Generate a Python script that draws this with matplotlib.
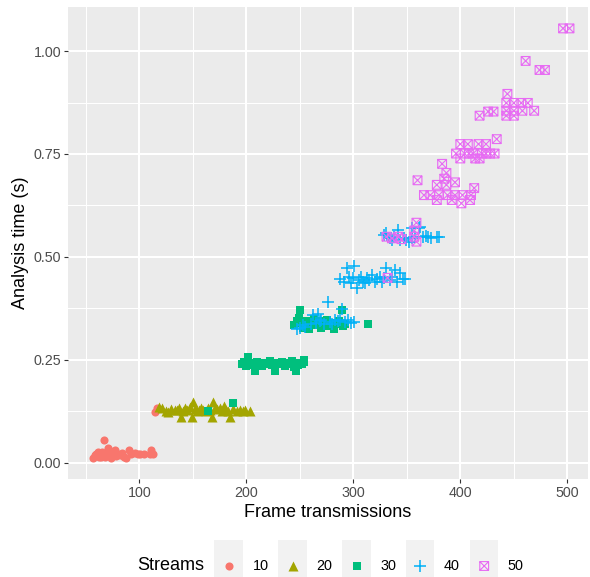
import matplotlib
matplotlib.use("Agg")
import matplotlib.pyplot as plt
from matplotlib.path import Path
from matplotlib.patches import Rectangle

plt.rcParams["font.family"] = ["Liberation Sans", "DejaVu Sans"]

# Frame transmissions vs analysis time, one group per stream count
x10 = [57, 59, 60, 61, 62, 63, 64, 65, 66, 67, 68, 70, 71, 72, 73, 74, 75, 76,
       77, 78, 80, 82, 84, 86, 88, 90, 92, 96, 99, 101, 104, 110, 111, 113, 115, 117]
y10 = [0.012, 0.018, 0.022, 0.027, 0.015, 0.020, 0.013, 0.025, 0.018, 0.054, 0.014,
       0.022, 0.035, 0.018, 0.028, 0.012, 0.020, 0.025, 0.031, 0.016, 0.022, 0.018,
       0.023, 0.015, 0.011, 0.031, 0.020, 0.023, 0.021, 0.020, 0.021, 0.021, 0.031,
       0.022, 0.122, 0.132]

x20 = [118, 121, 125, 127, 130, 133, 135, 137, 139, 141, 143, 145, 147, 149, 150,
       152, 154, 156, 158, 160, 162, 164, 166, 168, 169, 171, 173, 175, 177, 179,
       181, 183, 185, 188, 191, 194, 197, 199, 203]
y20 = [0.136, 0.132, 0.126, 0.124, 0.130, 0.128, 0.128, 0.132, 0.112, 0.126, 0.132,
       0.128, 0.136, 0.112, 0.148, 0.130, 0.126, 0.128, 0.134, 0.128, 0.126, 0.132,
       0.128, 0.112, 0.148, 0.132, 0.130, 0.132, 0.126, 0.138, 0.128, 0.126, 0.112,
       0.130, 0.126, 0.128, 0.126, 0.128, 0.126]

x30 = [164, 188,
       196, 198, 200, 202, 204, 207, 208, 210, 213, 215, 217, 220, 222, 224, 227,
       228, 231, 233, 236, 238, 240, 243, 245, 246, 248, 250, 252, 254, 254,
       245, 247, 249, 250, 251, 253, 255, 257, 259, 261, 263, 265, 268, 270, 272,
       275, 277, 280, 282, 285, 287, 289, 290, 292, 314]
y30 = [0.126, 0.144,
       0.240, 0.245, 0.235, 0.257, 0.242, 0.238, 0.222, 0.244, 0.240, 0.236, 0.243,
       0.240, 0.247, 0.238, 0.222, 0.242, 0.240, 0.245, 0.236, 0.242, 0.240, 0.246,
       0.233, 0.222, 0.238, 0.242, 0.240, 0.244, 0.250,
       0.334, 0.345, 0.352, 0.371, 0.340, 0.328, 0.338, 0.345, 0.326, 0.340, 0.350,
       0.334, 0.344, 0.328, 0.340, 0.346, 0.333, 0.340, 0.326, 0.338, 0.344, 0.371,
       0.332, 0.338, 0.336]

x40 = [247, 250, 253, 255, 260, 262, 265, 267, 269, 270, 273, 276, 278, 280, 283,
       286, 288, 289, 292, 295, 298, 301,
       288, 291, 294, 296, 298, 300, 301, 303, 305, 307, 309, 311, 313, 315, 317,
       320, 322, 325, 327, 329, 331, 334, 336, 339, 341, 344, 346, 348,
       329, 331, 334, 336, 338, 342, 344, 347, 349, 352, 355, 355, 358, 361, 362,
       365, 368, 370, 373, 378, 380]
y40 = [0.326, 0.327, 0.334, 0.330, 0.336, 0.359, 0.340, 0.361, 0.344, 0.347, 0.338,
       0.391, 0.342, 0.338, 0.347, 0.345, 0.347, 0.373, 0.342, 0.347, 0.340, 0.342,
       0.446, 0.440, 0.474, 0.452, 0.436, 0.448, 0.478, 0.424, 0.444, 0.452, 0.440,
       0.436, 0.448, 0.444, 0.456, 0.440, 0.446, 0.452, 0.438, 0.448, 0.474, 0.444,
       0.452, 0.468, 0.440, 0.462, 0.446, 0.446,
       0.553, 0.557, 0.545, 0.541, 0.549, 0.565, 0.541, 0.547, 0.541, 0.537, 0.545,
       0.569, 0.549, 0.569, 0.573, 0.549, 0.551, 0.549, 0.547, 0.549, 0.549]

x50 = [332, 331, 336, 342, 345, 357, 359, 359, 357, 360,
       366, 372, 378, 378, 380, 383, 385, 387, 387, 388, 392, 395, 395, 396, 400,
       400, 401, 402, 404, 407, 408, 409, 410, 412, 413, 414, 417, 418, 418, 420,
       424, 424, 426, 428, 431, 432, 434, 443, 443, 443, 444, 450, 450, 450, 457,
       458, 461, 463, 469, 474, 479, 496, 502]
y50 = [0.449, 0.549, 0.545, 0.549, 0.543, 0.549, 0.537, 0.583, 0.564, 0.686,
       0.650, 0.650, 0.675, 0.638, 0.650, 0.726, 0.690, 0.704, 0.675, 0.650, 0.638,
       0.650, 0.681, 0.751, 0.774, 0.739, 0.630, 0.650, 0.751, 0.774, 0.751, 0.638,
       0.650, 0.751, 0.667, 0.739, 0.774, 0.739, 0.843, 0.751, 0.774, 0.751, 0.853,
       0.751, 0.853, 0.751, 0.786, 0.874, 0.855, 0.843, 0.896, 0.874, 0.855, 0.843,
       0.874, 0.855, 0.976, 0.874, 0.855, 0.954, 0.954, 1.055, 1.055]

streams = ["10", "20", "30", "40", "50"]
colors = ["#F8766D", "#A3A500", "#00BF7D", "#00B0F6", "#E76BF3"]

# open square with a cross, like ggplot shape 7
box_x = Path(
    [(-1, -1), (1, -1), (1, 1), (-1, 1), (-1, -1), (-1, -1), (1, 1), (-1, 1), (1, -1)],
    [Path.MOVETO, Path.LINETO, Path.LINETO, Path.LINETO, Path.CLOSEPOLY,
     Path.MOVETO, Path.LINETO, Path.MOVETO, Path.LINETO],
)


def draw_group(ax, xs, ys, i):
    c = colors[i]
    if i == 0:
        ax.scatter(xs, ys, marker="o", s=34, color=c, linewidths=0, zorder=3)
    elif i == 1:
        ax.scatter(xs, ys, marker="^", s=52, color=c, linewidths=0, zorder=3)
    elif i == 2:
        ax.scatter(xs, ys, marker="s", s=31, color=c, linewidths=0, zorder=3)
    elif i == 3:
        ax.scatter(xs, ys, marker="+", s=66, color=c, linewidths=1.1, zorder=3)
    else:
        ax.scatter(xs, ys, marker=box_x, s=40, facecolors="none",
                   edgecolors=c, linewidths=0.8, zorder=3)


fig = plt.figure(figsize=(5.9, 5.77), dpi=100)
ax = fig.add_axes([68 / 590, 1 - 479 / 577, 520 / 590, 472 / 577])
ax.set_facecolor("#EBEBEB")

groups = [(x10, y10), (x20, y20), (x30, y30), (x40, y40), (x50, y50)]
for i, (xs, ys) in enumerate(groups):
    draw_group(ax, xs, ys, i)

ax.set_xlim(33.4, 519.3)
ax.set_ylim(-0.0396, 1.107)
ax.set_xticks([100, 200, 300, 400, 500])
ax.set_yticks([0, 0.25, 0.5, 0.75, 1.0])
ax.set_yticklabels(["0.00", "0.25", "0.50", "0.75", "1.00"])
ax.set_xticks([50, 150, 250, 350, 450], minor=True)
ax.set_yticks([0.125, 0.375, 0.625, 0.875], minor=True)
ax.grid(which="major", color="white", linewidth=1.45, zorder=0)
ax.grid(which="minor", color="white", linewidth=0.72, zorder=0)
ax.set_axisbelow(True)
for side in ax.spines.values():
    side.set_visible(False)
ax.tick_params(which="major", length=2.8, width=0.8, color="#333333",
               labelcolor="#4D4D4D", labelsize=10.3, pad=2)
ax.tick_params(which="minor", length=0)

ax.set_xlabel("Frame transmissions", fontsize=13, color="black", labelpad=3)
ax.set_ylabel("Analysis time (s)", fontsize=13, color="black", labelpad=3.5)

# legend strip along the bottom, laid out in pixel units
leg = fig.add_axes([0, 0, 1, 1], facecolor="none")
leg.set_xlim(0, 590)
leg.set_ylim(577, 0)
leg.axis("off")
leg.text(137, 566, "Streams", fontsize=13, va="center", ha="left")
key_left = [214.3, 278.3, 342.3, 406.0, 470.0]
label_left = [253, 316.7, 380.7, 443.5, 507.7]
for i, name in enumerate(streams):
    leg.add_patch(Rectangle((key_left[i], 540), 28.4, 40, facecolor="#F2F2F2",
                            edgecolor="none", zorder=1))
    draw_group(leg, [key_left[i] + 14.2], [566], i)
    leg.text(label_left[i], 566, name, fontsize=10.4, va="center", ha="left")

fig.savefig("out.png", dpi=100)
